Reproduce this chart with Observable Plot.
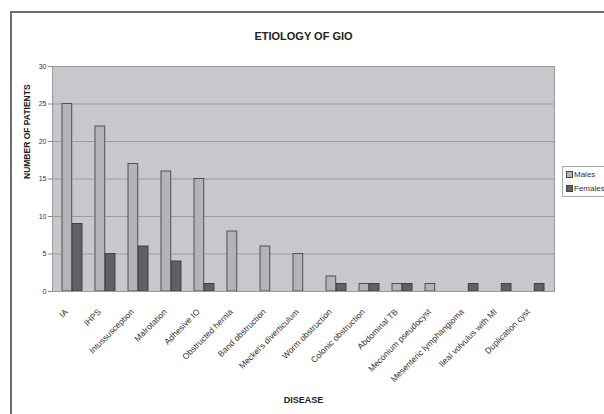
<!DOCTYPE html>
<html>
<head>
<meta charset="utf-8">
<script src="https://cdn.jsdelivr.net/npm/d3@7"></script>
<script src="https://cdn.jsdelivr.net/npm/@observablehq/plot@0.6"></script>
<style>
  html, body { margin: 0; padding: 0; background: #fff; overflow: hidden; width: 604px; height: 414px; }
  #wrap { position: relative; width: 604px; height: 414px; overflow: hidden; font-family: "Liberation Sans", Arial, sans-serif; }
  #frame { position: absolute; left: 10px; top: 11px; width: 700px; height: 500px; border: 2px solid #6e6e6e; box-sizing: border-box; }
  #chart { position: absolute; left: 0; top: 0; }
  #legend { position: absolute; left: 562px; top: 166px; width: 70px; height: 31px; border: 1px solid #aaa; background: #fff; box-sizing: border-box; font-size: 8px; color: #333; }
  #legend .row { position: absolute; left: 3px; height: 10px; line-height: 10px; white-space: nowrap; }
  #legend .sw { display: inline-block; width: 5px; height: 5px; border: 1px solid #444; margin-right: 1px; vertical-align: -1px; }
</style>
</head>
<body>
<div id="wrap">
  <div id="frame"></div>
  <div id="chart"></div>
  <div id="legend"></div>
</div>
<script>
const categories = ["IA","IHPS","Intussusception","Malrotation","Adhesive IO","Obstructed hernia","Band obstruction","Meckel's diverticulum","Worm obstruction","Colonic obstruction","Abdominal TB","Meconium pseudocyst","Mesenteric lymphangioma","Ileal volvulus with MI","Duplication cyst"];
const males   = [25, 22, 17, 16, 15, 8, 6, 5, 2, 1, 1, 1, 0, 0, 0];
const females = [ 9,  5,  6,  4,  1, 0, 0, 0, 1, 1, 1, 0, 1, 1, 1];
const yTicks = [0, 5, 10, 15, 20, 25, 30];
const seriesNames = ["Males", "Females"];
const seriesColors = ["#b4b4b8", "#616165"];

const data = categories.map((c, i) => ({disease: c, males: males[i], females: females[i]}));

const W = 604, H = 414, mL = 52, mR = 50, mT = 66, mB = 123;
const pI = 0.385, pO = 0.19;
const step = (W - mL - mR) / (categories.length - pI + 2 * pO);
const half = step * (1 - pI) / 2;

const chart = Plot.plot({
  width: W, height: H,
  marginLeft: mL, marginRight: mR, marginTop: mT, marginBottom: mB,
  style: {background: "transparent", fontFamily: "'Liberation Sans', Arial, sans-serif", color: "#333", overflow: "visible"},
  x: {domain: categories, paddingInner: pI, paddingOuter: pO, label: null},
  y: {domain: [0, 30], label: null},
  marks: [
    Plot.frame({fill: "#c6c8cb", stroke: null}),
    Plot.gridY(yTicks.filter(v => v > 0 && v < 30), {stroke: "#9c9c9e", strokeOpacity: 1}),
    Plot.barY(data.filter(d => d.males > 0), {x: "disease", y: "males", fill: seriesColors[0], stroke: "#505050", strokeWidth: 1, insetRight: half}),
    Plot.barY(data.filter(d => d.females > 0), {x: "disease", y: "females", fill: seriesColors[1], stroke: "#404040", strokeWidth: 1, insetLeft: half}),
    Plot.frame({stroke: "#9a9a9a"}),
    Plot.axisY({ticks: yTicks, tickSize: 4, tickPadding: 2, fontSize: 7, label: null, stroke: "#888"}),
    Plot.axisX({tickSize: 0, tickRotate: -45, tickPadding: 8, dx: -6, dy: 11, fontSize: 8.5, label: null}),
    Plot.text(["NUMBER OF PATIENTS"], {frameAnchor: "left", dx: -25, rotate: -90, fontSize: 8.5, fontWeight: "bold", fill: "#222"}),
    Plot.text(["DISEASE"], {frameAnchor: "bottom", dy: 111, fontSize: 9, fontWeight: "bold", fill: "#222"}),
    Plot.text(["ETIOLOGY OF GIO"], {frameAnchor: "top", dy: -34, fontSize: 11, fontWeight: "bold", fill: "#222", letterSpacing: "-0.6px"})
  ]
});
document.getElementById("chart").appendChild(chart);

const legend = document.getElementById("legend");
seriesNames.forEach((name, i) => {
  const row = document.createElement("div");
  row.className = "row";
  row.style.top = (3 + i * 14) + "px";
  row.innerHTML = `<span class="sw" style="background:${seriesColors[i]}"></span>${name}`;
  legend.appendChild(row);
});
</script>
</body>
</html>
